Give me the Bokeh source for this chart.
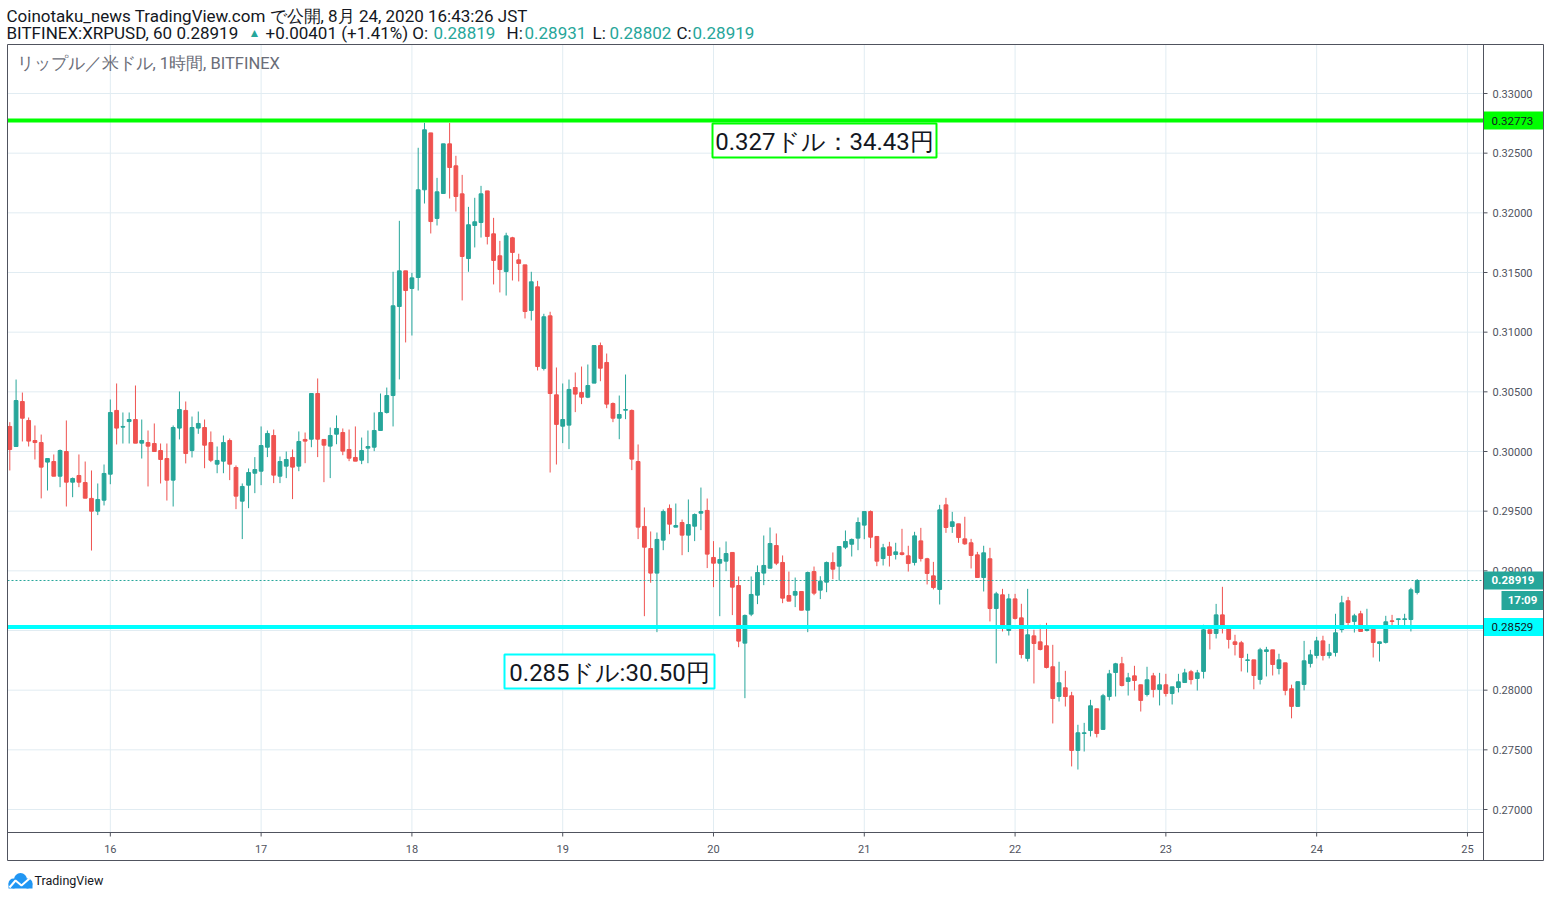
from bokeh.plotting import figure
from bokeh.models import ColumnDataSource, Range1d, Label
from bokeh.core.properties import value
from bokeh.embed import file_html
from bokeh.resources import INLINE

# ---------------- data (XRP/USD, 1h, Bitfinex; Aug 15 08:00 .. Aug 24 16:00 JST) -------------
opens = [
    0.30210, 0.30042, 0.30419, 0.30260, 0.30092, 0.30075, 0.29911, 0.29916, 0.29793, 0.30000,
    0.29743, 0.29799, 0.29740, 0.29607, 0.29500, 0.29592, 0.29810, 0.30344, 0.30204, 0.30251,
    0.30268, 0.30070, 0.30075, 0.30067, 0.30008, 0.29941, 0.29760, 0.30196, 0.30344, 0.30008,
    0.30196, 0.30201, 0.30075, 0.29894, 0.29919, 0.30092, 0.29866, 0.29584, 0.29718, 0.29818,
    0.29835, 0.30036, 0.30134, 0.29793, 0.29877, 0.29950, 0.29877, 0.30101, 0.30103, 0.30486,
    0.30101, 0.30045, 0.30145, 0.30159, 0.30017, 0.29950, 0.29927, 0.30028, 0.30036, 0.30176,
    0.30327, 0.30469, 0.31215, 0.31514, 0.31366, 0.31458, 0.32193, 0.32670, 0.31953, 0.32162,
    0.32578, 0.32394, 0.32159, 0.31617, 0.31894, 0.31919, 0.32184, 0.31824, 0.31640, 0.31508,
    0.31791, 0.31606, 0.31564, 0.31182, 0.31380, 0.30696, 0.31137, 0.30475, 0.30212, 0.30221,
    0.30536, 0.30494, 0.30455, 0.30573, 0.30888, 0.30746, 0.30402, 0.30279, 0.30346, 0.30344,
    0.29916, 0.29372, 0.29187, 0.28981, 0.29257, 0.29523, 0.29366, 0.29405, 0.29299, 0.29374,
    0.29483, 0.29506, 0.29112, 0.29064, 0.29081, 0.29154, 0.28877, 0.28394, 0.28637, 0.28796,
    0.28981, 0.29022, 0.29212, 0.29070, 0.28793, 0.28796, 0.28827, 0.28670, 0.28994, 0.28838,
    0.28905, 0.29070, 0.29039, 0.29198, 0.29223, 0.29274, 0.29383, 0.29497, 0.29288, 0.29103,
    0.29201, 0.29137, 0.29151, 0.29126, 0.29070, 0.29251, 0.29101, 0.28958, 0.28844, 0.29553,
    0.29372, 0.29394, 0.29268, 0.29235, 0.29134, 0.28944, 0.29101, 0.28684, 0.28799, 0.28500,
    0.28765, 0.28606, 0.28266, 0.28455, 0.28405, 0.28372, 0.28196, 0.27947, 0.28020, 0.27953,
    0.27495, 0.27637, 0.27662, 0.27844, 0.27671, 0.27947, 0.28148, 0.28221, 0.28073, 0.28120,
    0.28045, 0.27964, 0.28120, 0.28006, 0.28045, 0.27972, 0.28022, 0.28064, 0.28154, 0.28098,
    0.28157, 0.28506, 0.28475, 0.28631, 0.28517, 0.28405, 0.28397, 0.28249, 0.28254, 0.28090,
    0.28324, 0.28338, 0.28182, 0.28229, 0.28012, 0.27864, 0.28048, 0.28224, 0.28291, 0.28413,
    0.28291, 0.28316, 0.28508, 0.28749, 0.28576, 0.28640, 0.28500, 0.28531, 0.28391, 0.28400,
    0.28581, 0.28592, 0.28592, 0.28592, 0.28819,
]
highs = [
    0.30246, 0.30603, 0.30494, 0.30285, 0.30218, 0.30142, 0.29941, 0.29975, 0.30017, 0.30260,
    0.29782, 0.29975, 0.29916, 0.29841, 0.29732, 0.29891, 0.30436, 0.30570, 0.30327, 0.30327,
    0.30553, 0.30268, 0.30176, 0.30235, 0.30067, 0.30067, 0.30218, 0.30503, 0.30419, 0.30293,
    0.30335, 0.30268, 0.30168, 0.30042, 0.30134, 0.30109, 0.29883, 0.29732, 0.29858, 0.29953,
    0.30210, 0.30176, 0.30184, 0.29958, 0.30000, 0.30017, 0.30168, 0.30159, 0.30486, 0.30612,
    0.30101, 0.30201, 0.30302, 0.30193, 0.30184, 0.30210, 0.30117, 0.30176, 0.30327, 0.30486,
    0.30536, 0.31506, 0.31933, 0.31514, 0.31497, 0.32545, 0.32754, 0.32670, 0.32293, 0.32578,
    0.32754, 0.32478, 0.32318, 0.32050, 0.32126, 0.32226, 0.32184, 0.31958, 0.31765, 0.31833,
    0.31799, 0.31657, 0.31564, 0.31506, 0.31430, 0.31154, 0.31171, 0.30704, 0.30570, 0.30603,
    0.30662, 0.30712, 0.30729, 0.30888, 0.30913, 0.30821, 0.30411, 0.30469, 0.30645, 0.30352,
    0.30059, 0.29531, 0.29330, 0.29321, 0.29514, 0.29556, 0.29564, 0.29430, 0.29598, 0.29481,
    0.29698, 0.29606, 0.29249, 0.29196, 0.29246, 0.29154, 0.28953, 0.28634, 0.28953, 0.29045,
    0.29296, 0.29363, 0.29313, 0.29129, 0.28994, 0.28944, 0.28827, 0.28994, 0.29036, 0.28955,
    0.29078, 0.29154, 0.29204, 0.29338, 0.29271, 0.29447, 0.29497, 0.29506, 0.29288, 0.29226,
    0.29243, 0.29235, 0.29352, 0.29210, 0.29327, 0.29360, 0.29109, 0.29075, 0.29553, 0.29612,
    0.29494, 0.29394, 0.29453, 0.29268, 0.29159, 0.29210, 0.29193, 0.28824, 0.28849, 0.28807,
    0.28807, 0.28724, 0.28849, 0.28506, 0.28548, 0.28564, 0.28380, 0.28238, 0.28162, 0.27986,
    0.27710, 0.27726, 0.27919, 0.27844, 0.27969, 0.28170, 0.28229, 0.28279, 0.28145, 0.28204,
    0.28045, 0.28196, 0.28145, 0.28145, 0.28137, 0.28028, 0.28137, 0.28179, 0.28170, 0.28170,
    0.28548, 0.28506, 0.28723, 0.28866, 0.28517, 0.28464, 0.28413, 0.28305, 0.28254, 0.28355,
    0.28363, 0.28338, 0.28305, 0.28229, 0.28046, 0.28071, 0.28413, 0.28338, 0.28447, 0.28456,
    0.28388, 0.28640, 0.28791, 0.28782, 0.28640, 0.28665, 0.28682, 0.28531, 0.28405, 0.28623,
    0.28631, 0.28598, 0.28640, 0.28858, 0.28931,
]
lows = [
    0.29841, 0.30042, 0.30084, 0.30042, 0.29933, 0.29607, 0.29673, 0.29793, 0.29701, 0.29539,
    0.29617, 0.29701, 0.29609, 0.29170, 0.29467, 0.29548, 0.29726, 0.30059, 0.30067, 0.30067,
    0.30070, 0.29941, 0.29707, 0.30000, 0.29732, 0.29589, 0.29539, 0.30101, 0.29900, 0.29950,
    0.30148, 0.29860, 0.29911, 0.29818, 0.29818, 0.29760, 0.29517, 0.29266, 0.29525, 0.29651,
    0.29718, 0.29953, 0.29735, 0.29735, 0.29777, 0.29601, 0.29835, 0.29902, 0.30036, 0.29953,
    0.29743, 0.29777, 0.30061, 0.29969, 0.29919, 0.29919, 0.29894, 0.29902, 0.30003, 0.30176,
    0.30318, 0.30210, 0.30604, 0.30914, 0.30972, 0.31349, 0.32078, 0.31827, 0.31894, 0.32162,
    0.32120, 0.32011, 0.31266, 0.31506, 0.31710, 0.31793, 0.31735, 0.31400, 0.31333, 0.31307,
    0.31433, 0.31425, 0.31115, 0.31098, 0.30679, 0.30679, 0.29824, 0.29891, 0.30070, 0.30020,
    0.30330, 0.30397, 0.30447, 0.30573, 0.30589, 0.30363, 0.30246, 0.30103, 0.30271, 0.29844,
    0.29266, 0.28620, 0.28900, 0.28486, 0.29173, 0.29307, 0.29366, 0.29131, 0.29157, 0.29249,
    0.29341, 0.29023, 0.28863, 0.28620, 0.28997, 0.28629, 0.28360, 0.27933, 0.28620, 0.28721,
    0.28880, 0.29022, 0.29048, 0.28729, 0.28746, 0.28696, 0.28670, 0.28486, 0.28796, 0.28763,
    0.28821, 0.28930, 0.28919, 0.29182, 0.29120, 0.29173, 0.29265, 0.29190, 0.29039, 0.29045,
    0.29036, 0.29095, 0.29129, 0.28994, 0.29045, 0.29078, 0.28886, 0.28844, 0.28718, 0.29318,
    0.29318, 0.29235, 0.29218, 0.29020, 0.28944, 0.28827, 0.28576, 0.28224, 0.28492, 0.28458,
    0.28592, 0.28266, 0.28240, 0.28056, 0.28333, 0.28182, 0.27721, 0.27905, 0.27863, 0.27361,
    0.27335, 0.27486, 0.27612, 0.27604, 0.27671, 0.27914, 0.27947, 0.28031, 0.27955, 0.27997,
    0.27821, 0.27947, 0.27939, 0.27872, 0.27947, 0.27880, 0.27981, 0.28064, 0.28048, 0.27997,
    0.28098, 0.28341, 0.28433, 0.28475, 0.28349, 0.28291, 0.28157, 0.28148, 0.28007, 0.28048,
    0.28115, 0.28123, 0.28132, 0.27957, 0.27764, 0.27864, 0.27998, 0.28190, 0.28266, 0.28249,
    0.28266, 0.28282, 0.28483, 0.28542, 0.28483, 0.28492, 0.28492, 0.28274, 0.28240, 0.28391,
    0.28525, 0.28525, 0.28525, 0.28492, 0.28802,
]
closes = [
    0.30017, 0.30427, 0.30279, 0.30087, 0.30075, 0.29869, 0.29941, 0.29793, 0.30008, 0.29743,
    0.29774, 0.29743, 0.29609, 0.29500, 0.29598, 0.29816, 0.30327, 0.30196, 0.30210, 0.30268,
    0.30070, 0.30092, 0.30045, 0.30000, 0.29933, 0.29760, 0.30201, 0.30352, 0.29983, 0.30201,
    0.30235, 0.30053, 0.29927, 0.29925, 0.30075, 0.29894, 0.29626, 0.29707, 0.29824, 0.29849,
    0.30050, 0.30151, 0.29802, 0.29916, 0.29933, 0.29869, 0.30084, 0.30087, 0.30486, 0.30103,
    0.30053, 0.30134, 0.30193, 0.30003, 0.29944, 0.29919, 0.30008, 0.30042, 0.30176, 0.30327,
    0.30469, 0.31221, 0.31514, 0.31349, 0.31455, 0.32193, 0.32696, 0.31927, 0.32176, 0.32578,
    0.32380, 0.32137, 0.31634, 0.31900, 0.31925, 0.32159, 0.31802, 0.31601, 0.31525, 0.31807,
    0.31668, 0.31576, 0.31173, 0.31422, 0.30712, 0.31129, 0.30486, 0.30227, 0.30268, 0.30520,
    0.30481, 0.30455, 0.30553, 0.30888, 0.30698, 0.30397, 0.30279, 0.30310, 0.30352, 0.29936,
    0.29366, 0.29198, 0.28981, 0.29263, 0.29497, 0.29391, 0.29380, 0.29299, 0.29388, 0.29472,
    0.29497, 0.29140, 0.29064, 0.29095, 0.29145, 0.28863, 0.28411, 0.28626, 0.28802, 0.28986,
    0.29045, 0.29229, 0.29064, 0.28771, 0.28746, 0.28827, 0.28670, 0.28986, 0.28813, 0.28913,
    0.29070, 0.29014, 0.29204, 0.29246, 0.29263, 0.29405, 0.29497, 0.29282, 0.29081, 0.29193,
    0.29129, 0.29159, 0.29137, 0.29061, 0.29293, 0.29103, 0.28978, 0.28860, 0.29511, 0.29363,
    0.29411, 0.29279, 0.29226, 0.29129, 0.28944, 0.29151, 0.28684, 0.28807, 0.28517, 0.28765,
    0.28601, 0.28299, 0.28464, 0.28391, 0.28341, 0.28190, 0.27930, 0.28062, 0.27947, 0.27495,
    0.27643, 0.27643, 0.27869, 0.27637, 0.27953, 0.28137, 0.28221, 0.28039, 0.28103, 0.28081,
    0.27914, 0.28087, 0.28006, 0.28045, 0.27972, 0.28028, 0.28070, 0.28145, 0.28089, 0.28145,
    0.28506, 0.28475, 0.28631, 0.28517, 0.28425, 0.28383, 0.28274, 0.28254, 0.28123, 0.28338,
    0.28338, 0.28215, 0.28254, 0.27998, 0.27864, 0.28071, 0.28246, 0.28296, 0.28413, 0.28291,
    0.28313, 0.28481, 0.28732, 0.28567, 0.28623, 0.28492, 0.28517, 0.28400, 0.28405, 0.28573,
    0.28576, 0.28598, 0.28598, 0.28841, 0.28919,
]
start_hour = 8  # first candle: Aug 15, 08:00 (hours counted from Aug 15 00:00)
hours = [start_hour + i for i in range(len(opens))]

day_ticks = [24, 48, 72, 96, 120, 144, 168, 192, 216, 240]
day_labels = ["16", "17", "18", "19", "20", "21", "22", "23", "24", "25"]
price_ticks = [0.270, 0.275, 0.280, 0.285, 0.290, 0.295, 0.300, 0.305, 0.310, 0.315, 0.320, 0.325, 0.330]
price_labels = ["0.27000", "0.27500", "0.28000", "0.28500", "0.29000", "0.29500", "0.30000",
                "0.30500", "0.31000", "0.31500", "0.32000", "0.32500", "0.33000"]

resistance = 0.32773
support = 0.28529
last_price = 0.28919
countdown = "17:09"
resistance_note = "0.327ドル：34.43円"
support_note = "0.285ドル:30.50円"
header_line1 = "Coinotaku_news TradingView.com で公開, 8月 24, 2020 16:43:26 JST"
header_line2 = [  # (text, color)
    ("BITFINEX:XRPUSD, 60 0.28919", "#131722"), ("▲", "#26a69a"),
    ("+0.00401 (+1.41%) O:", "#131722"), ("0.28819", "#26a69a"),
    ("H:", "#131722"), ("0.28931", "#26a69a"),
    ("L:", "#131722"), ("0.28802", "#26a69a"),
    ("C:", "#131722"), ("0.28919", "#26a69a"),
]
header_line2_x = [6, 248, 265, 433, 506, 524, 592, 609, 676, 692]
watermark = "リップル／米ドル, 1時間, BITFINEX"
brand = "TradingView"

UP, DOWN = "#26a69a", "#ef5350"
LIME, CYAN = "#00ff00", "#00ffff"
BORDER = "#50535e"
GRID = "#e1ecf2"
TEXT = "#131722"

# ---------------- canvas geometry (page pixels) ----------------
W, H = 1546, 894
PANE_L, PANE_R, PANE_T, PANE_B = 7, 1483, 44, 832     # candle pane
OUTER_R, OUTER_B = 1543, 860                           # price / time scale outer edge
PX_PER_HOUR = 6.283
PX_PER_PRICE = 716 / 0.06
X0 = start_hour - 9.3 / PX_PER_HOUR
X1 = X0 + W / PX_PER_HOUR
Y_TOP = 0.330 + 93 / PX_PER_PRICE
Y_BOT = Y_TOP - H / PX_PER_PRICE


def px_x(px):
    return X0 + px / PX_PER_HOUR


def px_y(py):
    return Y_TOP - py / PX_PER_PRICE


def dpx(n):  # n pixels expressed as a price distance
    return n / PX_PER_PRICE


p = figure(width=W, height=H, x_range=Range1d(X0, X1), y_range=Range1d(Y_BOT, Y_TOP),
           x_axis_type=None, y_axis_type=None, output_backend="svg", toolbar_location=None,
           min_border=0)
p.outline_line_color = None
p.background_fill_color = "white"
p.border_fill_color = "white"

# grid inside the pane
n_d, n_p = len(day_ticks), len(price_ticks)
p.segment(x0=day_ticks, y0=[px_y(PANE_T)] * n_d, x1=day_ticks, y1=[px_y(PANE_B)] * n_d,
          line_color=GRID, line_width=1)
p.segment(x0=[px_x(PANE_L)] * n_p, y0=price_ticks, x1=[px_x(PANE_R)] * n_p, y1=price_ticks,
          line_color=GRID, line_width=1)

# candles
colors = [UP if c >= o else DOWN for o, c in zip(opens, closes)]
src = ColumnDataSource(dict(
    x=hours, high=highs, low=lows,
    top=[max(o, c) for o, c in zip(opens, closes)],
    bottom=[min(o, c) for o, c in zip(opens, closes)],
    color=colors,
))
p.segment(x0="x", y0="low", x1="x", y1="high", color="color", line_width=1, source=src)
p.vbar(x="x", top="top", bottom="bottom", width=0.6, fill_color="color", line_color="color",
       line_width=1, source=src)

# horizontal levels
p.segment(x0=[px_x(PANE_L)], y0=[last_price], x1=[px_x(PANE_R)], y1=[last_price],
          line_color=UP, line_width=1, line_dash="2 2")
p.segment(x0=[px_x(PANE_L)], y0=[resistance], x1=[px_x(PANE_R)], y1=[resistance],
          line_color=LIME, line_width=4)
p.segment(x0=[px_x(PANE_L)], y0=[support], x1=[px_x(PANE_R)], y1=[support],
          line_color=CYAN, line_width=4)

# price scale ticks and labels
p.segment(x0=[px_x(PANE_R)] * n_p, y0=price_ticks, x1=[px_x(PANE_R + 4)] * n_p, y1=price_ticks,
          line_color=BORDER, line_width=1)
p.text(x=[px_x(PANE_R + 9)] * n_p, y=price_ticks, text=price_labels, text_align="left",
       text_baseline="middle", text_font=value("Roboto"), text_font_size="11px",
       text_color=BORDER)
# time scale ticks and labels
p.segment(x0=day_ticks, y0=[px_y(PANE_B)] * n_d, x1=day_ticks, y1=[px_y(PANE_B + 4)] * n_d,
          line_color=BORDER, line_width=1)
p.text(x=day_ticks, y=[px_y(848)] * n_d, text=day_labels, text_align="center",
       text_baseline="middle", text_font=value("Roboto"), text_font_size="11px",
       text_color=BORDER)

# price scale tags (level value boxes)
tag_prices = [resistance, support, last_price]
tag_fills = [LIME, CYAN, UP]
tag_text_colors = [TEXT, TEXT, "white"]
tag_styles = ["normal", "normal", "bold"]
for price, fill, tcol, style in zip(tag_prices, tag_fills, tag_text_colors, tag_styles):
    p.quad(left=[px_x(PANE_R)], right=[px_x(OUTER_R)], top=[price + dpx(9)],
           bottom=[price - dpx(9)], fill_color=fill, line_color=None)
    p.text(x=[px_x(PANE_R + 8)], y=[price], text=[f"{price:.5f}"], text_align="left",
           text_baseline="middle", text_font=value("Roboto"), text_font_size="11.5px",
           text_font_style=style, text_color=tcol)
# countdown to bar close, under the last price tag
p.quad(left=[px_x(1501)], right=[px_x(OUTER_R)], top=[last_price - dpx(10.5)],
       bottom=[last_price - dpx(29.5)], fill_color=UP, line_color=None)
p.text(x=[px_x(1522)], y=[last_price - dpx(20)], text=[countdown], text_align="center",
       text_baseline="middle", text_font=value("Roboto"), text_font_size="11.5px",
       text_font_style="bold", text_color="white")

# borders: outer box, pane/price-scale divider, pane/time-scale divider
p.multi_line(
    xs=[[px_x(PANE_L), px_x(OUTER_R), px_x(OUTER_R), px_x(PANE_L), px_x(PANE_L)],
        [px_x(PANE_R), px_x(PANE_R)],
        [px_x(PANE_L), px_x(PANE_R)]],
    ys=[[px_y(PANE_T), px_y(PANE_T), px_y(OUTER_B), px_y(OUTER_B), px_y(PANE_T)],
        [px_y(PANE_T), px_y(OUTER_B)],
        [px_y(PANE_B), px_y(PANE_B)]],
    line_color=BORDER, line_width=1)

# notes on the chart (boxes around the level annotations)
notes = [(resistance_note, LIME, 712, 936, 123, 157), (support_note, CYAN, 504, 714, 654, 688)]
for txt, col, l, r, t, b in notes:
    p.quad(left=[px_x(l)], right=[px_x(r)], top=[px_y(t)], bottom=[px_y(b)],
           fill_color="white", line_color=col, line_width=2)
    p.text(x=[px_x((l + r) / 2)], y=[px_y((t + b) / 2 + 1)], text=[txt], text_align="center",
           text_baseline="middle", text_font=value("Roboto"), text_font_size="24px",
           text_color=TEXT)

# watermark
p.add_layout(Label(x=px_x(16), y=px_y(63), text=watermark, text_baseline="middle",
                   text_font="Roboto", text_font_size="16.5px", text_color="#6a6d78"))

# header
p.add_layout(Label(x=px_x(6), y=px_y(15.5), text=header_line1, text_baseline="middle",
                   text_font="Roboto", text_font_size="17px", text_color=TEXT))
for (txt, col), hx in zip(header_line2, header_line2_x):
    p.add_layout(Label(x=px_x(hx), y=px_y(32), text=txt, text_baseline="middle",
                       text_font="Roboto", text_font_size="17px" if txt != "▲" else "12px",
                       text_color=col))

# footer: TradingView logo (cloud with a white zigzag) and brand name
p.scatter(x=[px_x(13), px_x(20), px_x(27)], y=[px_y(883), px_y(879), px_y(883)],
          size=[10, 13, 10], marker="circle", fill_color="#2196f3", line_color=None)
p.quad(left=[px_x(8)], right=[px_x(32)], top=[px_y(883)], bottom=[px_y(888)],
       fill_color="#2196f3", line_color=None)
p.line(x=[px_x(9), px_x(15), px_x(21), px_x(29)], y=[px_y(887), px_y(880), px_y(885), px_y(878)],
       line_color="white", line_width=2)
p.add_layout(Label(x=px_x(34), y=px_y(880), text=brand, text_baseline="middle",
                   text_font="Roboto", text_font_size="12.5px", text_color=TEXT))

open("out.html", "w").write(file_html(p, INLINE))
